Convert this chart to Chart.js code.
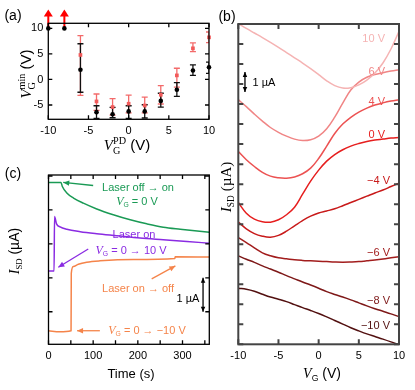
<!DOCTYPE html>
<html>
<head>
<meta charset="utf-8">
<script src="https://cdn.jsdelivr.net/npm/chart.js@4.4.1/dist/chart.umd.min.js"></script>
<style>
  html, body { margin: 0; padding: 0; background: #fff; }
  #fig { position: relative; width: 415px; height: 390px; overflow: hidden; font-family: "Liberation Sans", Arial, sans-serif; color: #000; }
  #fig canvas { position: absolute; }
  .t { position: absolute; white-space: nowrap; line-height: 1; transform: translate(-50%, -50%); }
  .r { transform: translate(-100%, -50%); }
  .rot { transform: translate(-50%, -50%) rotate(-90deg); }
  .v { font-family: "Liberation Serif", serif; font-style: italic; }
  .s { font-family: "Liberation Serif", serif; }
  .sb { font-size: 0.62em; position: relative; top: 0.3em; }
  .st { display: inline-flex; flex-direction: column; font-family: "Liberation Serif", serif; font-size: 0.68em; line-height: 0.95; vertical-align: 0.6em; }
</style>
</head>
<body>
<div id="fig">
  <canvas id="chartA" width="225" height="142" style="left:0;top:0"></canvas>
  <canvas id="chartB" width="203" height="390" style="left:212px;top:0"></canvas>
  <canvas id="chartC" width="225" height="230" style="left:0;top:160px"></canvas>

  <!-- panel letters -->
  <div class="t" style="left:13px;top:15px;font-size:14px">(a)</div>
  <div class="t" style="left:227px;top:16px;font-size:14px">(b)</div>
  <div class="t" style="left:13px;top:173px;font-size:14px">(c)</div>

  <!-- axis titles -->
  <div class="t rot" style="left:27px;top:74px;font-size:15px"><span class="v">V</span><span class="st"><span>min</span><span>G</span></span> (V)</div>
  <div class="t" style="left:127px;top:146px;font-size:15px"><span class="v">V</span><span class="st"><span>PD</span><span>G</span></span> (V)</div>
  <div class="t rot" style="left:226px;top:187px;font-size:15px"><span class="v">I</span><span class="sb s">SD</span> <span class="s">(µA)</span></div>
  <div class="t" style="left:322px;top:373px;font-size:14px"><span class="v">V</span><span class="sb">G</span> (V)</div>
  <div class="t rot" style="left:14px;top:251px;font-size:14px"><span class="v">I</span><span class="sb s">SD</span> (µA)</div>
  <div class="t" style="left:131px;top:373px;font-size:13px">Time (s)</div>

  <!-- panel (b) curve labels -->
  <div class="t r" style="left:385px;top:38px;font-size:11px;color:#f5b3b3">10 V</div>
  <div class="t r" style="left:385px;top:71px;font-size:11px;color:#f08585">6 V</div>
  <div class="t r" style="left:385px;top:101px;font-size:11px;color:#ec5252">4 V</div>
  <div class="t r" style="left:385px;top:134px;font-size:11px;color:#e61e1e">0 V</div>
  <div class="t r" style="left:390px;top:180px;font-size:11px;color:#c81a1a">−4 V</div>
  <div class="t r" style="left:390px;top:252px;font-size:11px;color:#a21d1d">−6 V</div>
  <div class="t r" style="left:390px;top:300px;font-size:11px;color:#7e1818">−8 V</div>
  <div class="t r" style="left:390px;top:325px;font-size:11px;color:#521010">−10 V</div>
  <div class="t" style="left:264px;top:82px;font-size:11px">1 µA</div>

  <!-- panel (c) notes -->
  <div class="t" style="left:138px;top:187px;font-size:11px;color:#1a9a55">Laser off → on</div>
  <div class="t" style="left:137px;top:201px;font-size:11px;color:#1a9a55"><span class="v" style="font-size:12px">V</span><span class="sb">G</span> = 0 V</div>
  <div class="t" style="left:134px;top:234px;font-size:11px;color:#8a2be2">Laser on</div>
  <div class="t" style="left:131px;top:250px;font-size:11px;color:#8a2be2"><span class="v" style="font-size:12px">V</span><span class="sb">G</span> = 0 → 10 V</div>
  <div class="t" style="left:138px;top:288px;font-size:11px;color:#f5844a">Laser on → off</div>
  <div class="t" style="left:147px;top:330px;font-size:11px;color:#f5844a"><span class="v" style="font-size:12px">V</span><span class="sb">G</span> = 0 → −10 V</div>
  <div class="t" style="left:188px;top:298px;font-size:11px">1 µA</div>
</div>

<script>
// ---------- (a) gate voltage of the minimum vs photodoping gate voltage
const vgPD = [-10, -8, -6, -4, -2, 0, 2, 4, 6, 8, 10];
const minDark = [10, 10, 1.9, -6.4, -6.8, -6.25, -6.25, -4.2, -2.0, 1.75, 2.4];
const minDarkLo = [null, null, -2.5, -7.6, -7.5, -7.6, -7.55, -5.4, -3.3, 0.8, 1.2];
const minDarkHi = [null, null, 7.0, -5.15, -5.45, -5.15, -4.95, -2.7, -0.6, 2.85, 3.4];
const minRed = [null, null, 4.8, -4.3, -5.4, -4.75, -5.1, -3.0, 0.8, 6.1, 8.25];
const minRedLo = [null, null, -3.1, -6.05, -7.0, -6.55, -6.55, -4.8, -1.5, 5.45, 7.2];
const minRedHi = [null, null, 8.6, -2.85, -3.75, -3.05, -3.45, -1.2, 2.2, 7.15, 9.3];
const aboveRange = [-10, -8]; // minimum lies beyond +10 V

// ---------- (b) transfer curves after photodoping at different gate voltages
const vgSweep = [-10, -9, -8, -7, -6, -5, -4, -3, -2, -1, 0, 1, 2, 3, 4, 5, 6, 7, 8, 9, 10];
const isd10 = [15.42, 15.18, 14.95, 14.72, 14.48, 14.23, 13.97, 13.71, 13.45, 13.17, 12.87, 12.56, 12.32, 12.2, 12.22, 12.36, 12.6, 12.95, 13.45, 14.15, 15.03];
const isd6 = [11.62, 11.27, 10.9, 10.55, 10.23, 9.99, 9.8, 9.65, 9.58, 9.62, 9.8, 10.17, 10.75, 11.45, 12.1, 12.5, 12.74, 12.88, 12.97, 13.05, 13.12];
const isd4 = [9.03, 8.62, 8.28, 7.99, 7.8, 7.72, 7.7, 7.76, 7.92, 8.2, 8.68, 9.3, 9.93, 10.4, 10.74, 11.0, 11.2, 11.35, 11.46, 11.55, 11.62];
const isd0 = [6.48, 5.95, 5.65, 5.52, 5.5, 5.62, 5.87, 6.25, 6.9, 7.55, 8.1, 8.55, 8.88, 9.12, 9.3, 9.43, 9.53, 9.6, 9.65, 9.7, 9.73];
const isdM4 = [5.5, 5.17, 4.93, 4.8, 4.75, 4.84, 5.05, 5.32, 5.58, 5.8, 5.96, 6.06, 6.17, 6.32, 6.48, 6.64, 6.8, 6.96, 7.11, 7.28, 7.45];
const isdM6 = [4.73, 4.48, 4.22, 3.97, 3.82, 3.72, 3.67, 3.62, 3.59, 3.57, 3.55, 3.53, 3.51, 3.5, 3.51, 3.53, 3.57, 3.61, 3.66, 3.72, 3.78];
const isdM8 = [3.82, 3.65, 3.49, 3.32, 3.16, 3.0, 2.83, 2.67, 2.51, 2.36, 2.2, 2.03, 1.89, 1.76, 1.62, 1.47, 1.32, 1.18, 1.05, 0.92, 0.78];
const isdM10 = [2.2, 2.15, 2.05, 1.9, 1.76, 1.65, 1.53, 1.38, 1.23, 1.09, 0.94, 0.77, 0.59, 0.41, 0.23, 0.07, -0.08, -0.21, -0.34, -0.48, -0.63];

// ---------- (c) time traces
const offOnT = [0, 28, 31, 41, 56, 78, 108, 145, 183, 220, 257, 295, 360];
const offOnI = [4.81, 4.81, 4.69, 4.5, 4.35, 4.2, 4.03, 3.86, 3.71, 3.59, 3.49, 3.43, 3.34];
const posGateT = [0, 12.5, 13.5, 18, 26, 41, 71, 108, 153, 205, 257, 310, 360];
const posGateI = [2.2, 2.2, 3.81, 3.59, 3.5, 3.43, 3.36, 3.3, 3.24, 3.17, 3.12, 3.07, 3.02];
const negGateT = [0, 25, 50.5, 51, 55.6, 66.8, 85.6, 115, 190, 283, 283.5, 360];
const negGateI = [0.44, 0.41, 0.44, 2.13, 2.33, 2.4, 2.46, 2.5, 2.54, 2.57, 2.62, 2.61];

const tickFont = { family: "'Liberation Sans', Arial, sans-serif", size: 11 };
const pts = (xs, ys) => xs.map((x, i) => ({ x: x, y: ys[i] })).filter(p => p.y != null);

// box around the plot with inward ticks on all four sides
const frame = {
  id: 'frame',
  afterDatasetsDraw(chart, args, opts) {
    const { ctx, chartArea: a, scales } = chart;
    ctx.save();
    ctx.strokeStyle = opts.color;
    ctx.lineWidth = opts.width;
    ctx.beginPath();
    scales.x.ticks.forEach(t => {
      const px = scales.x.getPixelForValue(t.value);
      ctx.moveTo(px, a.bottom); ctx.lineTo(px, a.bottom - opts.len);
      ctx.moveTo(px, a.top); ctx.lineTo(px, a.top + opts.len);
    });
    scales.y.ticks.forEach(t => {
      const py = scales.y.getPixelForValue(t.value);
      ctx.moveTo(a.left, py); ctx.lineTo(a.left + opts.len, py);
      ctx.moveTo(a.right, py); ctx.lineTo(a.right - opts.len, py);
    });
    ctx.stroke();
    ctx.strokeRect(a.left, a.top, a.width, a.height);
    ctx.restore();
  }
};

// arrows in data coordinates
function drawHead(ctx, x0, y0, x1, y1, size) {
  const ang = Math.atan2(y1 - y0, x1 - x0);
  ctx.beginPath();
  ctx.moveTo(x1, y1);
  ctx.lineTo(x1 - size * Math.cos(ang) + size * 0.45 * Math.sin(ang), y1 - size * Math.sin(ang) - size * 0.45 * Math.cos(ang));
  ctx.lineTo(x1 - size * Math.cos(ang) - size * 0.45 * Math.sin(ang), y1 - size * Math.sin(ang) + size * 0.45 * Math.cos(ang));
  ctx.closePath();
  ctx.fill();
}
const arrows = {
  id: 'arrows',
  afterDatasetsDraw(chart, args, opts) {
    const { ctx, scales: { x, y } } = chart;
    ctx.save();
    (opts.list || []).forEach(a => {
      const x0 = x.getPixelForValue(a.from[0]), y0 = y.getPixelForValue(a.from[1]);
      const x1 = x.getPixelForValue(a.to[0]), y1 = y.getPixelForValue(a.to[1]);
      ctx.strokeStyle = a.color; ctx.fillStyle = a.color; ctx.lineWidth = a.width || 1.3;
      ctx.beginPath(); ctx.moveTo(x0, y0); ctx.lineTo(x1, y1); ctx.stroke();
      drawHead(ctx, x0, y0, x1, y1, a.head || 6);
      if (a.both) drawHead(ctx, x1, y1, x0, y0, a.head || 6);
    });
    ctx.restore();
  }
};

// error bars and the "beyond +10 V" arrows of panel (a)
const errorBars = {
  id: 'errorBars',
  beforeDatasetsDraw(chart) {
    const { ctx, chartArea: a, scales: { x, y } } = chart;
    ctx.save();
    ctx.beginPath(); ctx.rect(a.left, a.top, a.width, a.height); ctx.clip();
    const bars = (lo, hi, color) => {
      ctx.strokeStyle = color; ctx.lineWidth = 1.3;
      ctx.beginPath();
      vgPD.forEach((v, i) => {
        if (lo[i] == null) return;
        const px = x.getPixelForValue(v);
        const p1 = y.getPixelForValue(lo[i]), p2 = y.getPixelForValue(hi[i]);
        ctx.moveTo(px, p1); ctx.lineTo(px, p2);
        ctx.moveTo(px - 3, p1); ctx.lineTo(px + 3, p1);
        ctx.moveTo(px - 3, p2); ctx.lineTo(px + 3, p2);
      });
      ctx.stroke();
    };
    bars(minRedLo, minRedHi, 'rgba(242,90,90,0.9)');
    bars(minDarkLo, minDarkHi, '#111');
    ctx.restore();

    ctx.save();
    ctx.strokeStyle = '#f00'; ctx.fillStyle = '#f00'; ctx.lineWidth = 2;
    aboveRange.forEach(v => {
      const px = x.getPixelForValue(v), py = y.getPixelForValue(10);
      ctx.beginPath(); ctx.moveTo(px, py); ctx.lineTo(px, py - 13); ctx.stroke();
      ctx.beginPath();
      ctx.moveTo(px, py - 19); ctx.lineTo(px - 4.5, py - 12); ctx.lineTo(px + 4.5, py - 12);
      ctx.closePath(); ctx.fill();
    });
    ctx.restore();
  }
};

const hideGrid = { display: false, drawTicks: false };
const noBorder = { display: false };

// ---------- chart (a)
new Chart(document.getElementById('chartA'), {
  type: 'scatter',
  data: {
    datasets: [
      { data: pts(vgPD, minRed), pointStyle: 'rect', pointRadius: 2.6, backgroundColor: '#f25a5a', borderWidth: 0, clip: false },
      { data: pts(vgPD, minDark), pointStyle: 'circle', pointRadius: 2.3, backgroundColor: '#000', borderWidth: 0, clip: false }
    ]
  },
  options: {
    responsive: false, animation: false,
    layout: { padding: { left: 0, top: 23.3, right: 16, bottom: 0 } },
    plugins: { legend: { display: false }, tooltip: { enabled: false }, frame: { color: '#000', width: 1.3, len: 4 } },
    scales: {
      x: { type: 'linear', min: -10, max: 10, grid: hideGrid, border: noBorder,
           ticks: { stepSize: 5, font: tickFont, color: '#000', padding: 5, maxRotation: 0 },
           afterFit: s => { s.height = 22.7; } },
      y: { type: 'linear', min: -7.8, max: 11, grid: hideGrid, border: noBorder,
           ticks: { stepSize: 5, includeBounds: false, font: tickFont, color: '#000', padding: 5 },
           afterFit: s => { s.width = 48.3; } }
    }
  },
  plugins: [errorBars, frame]
});

// ---------- chart (b)
const gateCurves = [
  { y: isd10, color: '#f5b3b3' },
  { y: isd6, color: '#f08585' },
  { y: isd4, color: '#ec5252' },
  { y: isd0, color: '#e61e1e' },
  { y: isdM4, color: '#c81a1a' },
  { y: isdM6, color: '#a21d1d' },
  { y: isdM8, color: '#7e1818' },
  { y: isdM10, color: '#521010' }
];
new Chart(document.getElementById('chartB'), {
  type: 'line',
  data: {
    datasets: gateCurves.map(c => ({
      data: pts(vgSweep, c.y), borderColor: c.color, borderWidth: 1.5,
      pointRadius: 0, tension: 0.4, fill: false
    }))
  },
  options: {
    responsive: false, animation: false,
    layout: { padding: { left: 0, top: 24, right: 16, bottom: 0 } },
    plugins: {
      legend: { display: false }, tooltip: { enabled: false },
      frame: { color: '#444', width: 2, len: 5 },
      arrows: { list: [{ from: [-9.17, 12], to: [-9.17, 13], color: '#000', both: true, head: 5, width: 1.3 }] }
    },
    scales: {
      x: { type: 'linear', min: -10, max: 10, grid: hideGrid, border: noBorder,
           ticks: { stepSize: 5, font: tickFont, color: '#000', padding: 5, maxRotation: 0 },
           afterFit: s => { s.height = 45.7; } },
      y: { type: 'linear', min: -0.6, max: 15.4, grid: hideGrid, border: noBorder,
           ticks: { stepSize: 1, includeBounds: false, display: false },
           afterFit: s => { s.width = 26.3; } }
    }
  },
  plugins: [frame, arrows]
});

// ---------- chart (c)
new Chart(document.getElementById('chartC'), {
  type: 'line',
  data: {
    datasets: [
      { data: pts(offOnT, offOnI), borderColor: '#1a9a55' },
      { data: pts(posGateT, posGateI), borderColor: '#8a2be2' },
      { data: pts(negGateT, negGateI), borderColor: '#f5844a' }
    ].map(d => Object.assign(d, { borderWidth: 1.5, pointRadius: 0, cubicInterpolationMode: 'monotone', fill: false }))
  },
  options: {
    responsive: false, animation: false,
    layout: { padding: { left: 0, top: 15, right: 15.7, bottom: 0 } },
    plugins: {
      legend: { display: false }, tooltip: { enabled: false },
      frame: { color: '#000', width: 1.3, len: 4 },
      arrows: { list: [
        { from: [100, 4.72], to: [33, 4.81], color: '#1a9a55' },
        { from: [89, 2.85], to: [22, 2.31], color: '#8a2be2' },
        { from: [231, 1.97], to: [284, 2.35], color: '#f5844a' },
        { from: [115, 0.44], to: [64, 0.44], color: '#f5844a' },
        { from: [346, 1], to: [346, 2], color: '#000', both: true, head: 5 }
      ] }
    },
    scales: {
      x: { type: 'linear', min: 0, max: 360, grid: hideGrid, border: noBorder,
           ticks: { stepSize: 50, includeBounds: false, font: tickFont, color: '#000', padding: 5, maxRotation: 0, autoSkip: false,
                    callback: v => (v % 100 === 0 ? String(v) : '') },
           afterFit: s => { s.height = 45.7; } },
      y: { type: 'linear', min: 0.04, max: 5.03, grid: hideGrid, border: noBorder,
           ticks: { stepSize: 1, includeBounds: false, display: false },
           afterFit: s => { s.width = 48.5; } }
    }
  },
  plugins: [frame, arrows]
});
</script>
</body>
</html>
